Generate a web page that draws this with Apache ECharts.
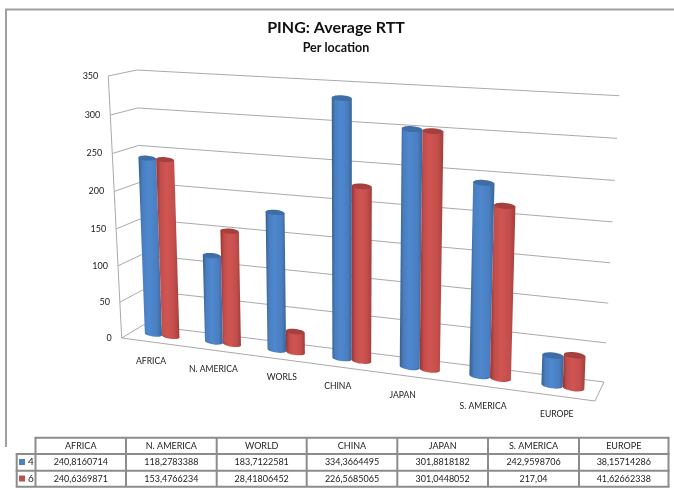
<!DOCTYPE html>
<html><head><meta charset="utf-8">
<style>html,body{margin:0;padding:0;background:#fff}#c{width:674px;height:490px}</style>
<script src="https://cdn.jsdelivr.net/npm/echarts@6/dist/echarts.min.js"></script>
</head><body><div id="c"></div>
<script>
const axisCategories = ['AFRICA','N. AMERICA','WORLS','CHINA','JAPAN','S. AMERICA','EUROPE'];
const tableCategories = ['AFRICA','N. AMERICA','WORLD','CHINA','JAPAN','S. AMERICA','EUROPE'];
const series4 = [240.8160714,118.2783388,183.7122581,334.3664495,301.8818182,242.9598706,38.15714286];
const series6 = [240.6369871,153.4766234,28.41806452,226.5685065,301.0448052,217.04,41.62662338];
const valueTicks = [0,50,100,150,200,250,300,350];
const FONT = 'Lato';
const GRID = {left:132, top:73, width:468, height:259};
const CORNERS = {
  f00:[121.7,338], f01:[108.3,76], f10:[595,401], f11:[613,97],
  b00:[143.3,325], b01:[136.7,70], b10:[604,382], b11:[619.3,95.7]
};
const mix=(a,b,t)=>[a[0]+(b[0]-a[0])*t,a[1]+(b[1]-a[1])*t];
function warp(s,w,z){
  const wp=w-0.05*w*(1-w), c=CORNERS;
  const front=mix(mix(c.f00,c.f01,wp),mix(c.f10,c.f11,wp),s);
  const back=mix(mix(c.b00,c.b01,wp),mix(c.b10,c.b11,wp),s);
  return mix(front,back,z);
}
const ease=u=>0.8764*u+0.1247*u*u;
function project(px,py,cs,z){
  const s=ease((px-cs.x)/cs.width), w=(cs.y+cs.height-py)/cs.height;
  const p=warp(s,w,z);
  return [p[0]-5*s*w,p[1]+4*s*w];
}
function cyl(dark,mid,light,edge,top){
  return {dark,mid,light,edge,top};
}
const BLUE=cyl('#3a659c','#4a7fc0','#4f88cf','#35608f','#3f6da6');
const RED=cyl('#a23c3a','#c24e4b','#d05552','#97312f','#a5403d');
function grad(p){return {type:'linear',x:0,y:0,x2:1,y2:0,colorStops:[
  {offset:0,color:p.edge},{offset:.18,color:p.mid},{offset:.45,color:p.light},{offset:.78,color:p.mid},{offset:1,color:p.dark}]};}
function cylinder(offset,pal){
  return function(params,api){
    const cs=params.coordSys, band=api.size([1,0])[0];
    const c0=api.coord([api.value(0),0]), c1=api.coord([api.value(0),api.value(1)]);
    const cx=c0[0]+offset*band, hw=0.145*band;
    const bl=project(cx-hw,c0[1],cs,.5), br=project(cx+hw,c0[1],cs,.5);
    const tl=project(cx-hw,c1[1],cs,.5), tr=project(cx+hw,c1[1],cs,.5);
    const fill=grad(pal);
    const ang=p=>-Math.atan2(p[1],p[0]);
    const rb=(br[0]-bl[0])/2, rt=(tr[0]-tl[0])/2;
    return {type:'group',children:[
      {type:'ellipse',x:(bl[0]+br[0])/2,y:(bl[1]+br[1])/2,rotation:ang([br[0]-bl[0],br[1]-bl[1]]),
       shape:{cx:0,cy:0,rx:rb,ry:rb*.28},style:{fill:fill}},
      {type:'polygon',shape:{points:[tl,tr,br,bl]},style:{fill:fill}},
      {type:'ellipse',x:(tl[0]+tr[0])/2,y:(tl[1]+tr[1])/2,rotation:ang([tr[0]-tl[0],tr[1]-tl[1]]),
       shape:{cx:0,cy:0,rx:rt,ry:rt*.28},style:{fill:pal.top}}
    ]};
  };
}
const LINE={stroke:'#aaaaaa',lineWidth:1,fill:null};
function wallItem(params,api){
  const cs=params.coordSys;
  const w=(cs.y+cs.height-api.coord([0,api.value(1)])[1])/cs.height;
  const pts=[warp(0,w,0),warp(0,w,1),warp(1,w,1)];
  const f=warp(0,w,0);
  return {type:'group',children:[
    {type:'polyline',shape:{points:pts},style:LINE},
    {type:'text',style:{x:f[0]-10,y:f[1],text:String(api.value(1)),align:'right',verticalAlign:'middle',
      font:'9px '+FONT,fill:'#222'}}
  ]};
}
function floorItem(){
  return {type:'group',children:[
    {type:'polyline',shape:{points:[warp(0,0,0),warp(1,0,0),warp(1,0,1)]},style:LINE},
    {type:'polyline',shape:{points:[warp(0,1,0),warp(0,0,0)]},style:LINE}
  ]};
}
const labelNudge=[[-11,1],[-9.5,1.5],[-4.3,.7],[-14,2],[-17,2],[-7,4],[-6,2]];
function catLabel(params,api){
  const cs=params.coordSys,i=api.value(0);
  const c=api.coord([i,0]), p=project(c[0],c[1],cs,.5);
  return {type:'text',style:{x:p[0]+labelNudge[i][0],y:p[1]+25+labelNudge[i][1],text:axisCategories[i],align:'center',verticalAlign:'middle',
    font:'8.6px '+FONT,fill:'#222'}};
}
// data table
const TX=[35.5,126,216.7,306.7,397.3,488,579,668.5], TY=[437.7,454,470.7,486.7], LEFT=16.7;
const fmt=v=>String(v).replace('.',',');
const tableEls=[];
const B={stroke:'#8c8c8c',lineWidth:2};
function hl(x1,x2,y){tableEls.push({type:'line',shape:{x1,y1:y,x2,y2:y},style:B});}
function vl(x,y1,y2){tableEls.push({type:'line',shape:{x1:x,y1,x2:x,y2},style:B});}
hl(TX[0]-1,TX[7]+1,TY[0]);hl(LEFT-1,TX[7]+1,TY[1]);hl(LEFT-1,TX[7]+1,TY[2]);hl(LEFT-1,TX[7]+1,TY[3]);
TX.forEach(x=>vl(x,TY[0],TY[3]));vl(LEFT,TY[1],TY[3]);
function cell(i,row,text){
  tableEls.push({type:'text',x:(TX[i]+TX[i+1])/2,y:(TY[row]+TY[row+1])/2,
    style:{text,align:'center',verticalAlign:'middle',font:'9px '+FONT,fill:'#222'}});
}
tableCategories.forEach((c,i)=>{cell(i,0,c);cell(i,1,fmt(series4[i]));cell(i,2,fmt(series6[i]));});
// chart frame
const frame=[
 {type:'line',shape:{x1:5,y1:9.5,x2:674,y2:9.5},style:{stroke:'#a0a0a0',lineWidth:2}},
 {type:'line',shape:{x1:6,y1:9,x2:6,y2:447},style:{stroke:'#a0a0a0',lineWidth:2}}
];
const chart=echarts.init(document.getElementById('c'));
const idx=axisCategories.map((c,i)=>i);
chart.setOption({
  animation:false,backgroundColor:'#fff',
  title:{text:'PING: Average RTT',subtext:'Per location',left:331,top:15,textAlign:'center',itemGap:5,
    textStyle:{fontFamily:FONT,fontSize:16,fontWeight:'bold',color:'#111'},
    subtextStyle:{fontFamily:FONT,fontSize:12.5,fontWeight:'bold',color:'#111'}},
  legend:{orient:'vertical',left:19,top:457,padding:0,itemWidth:6,itemHeight:6,itemGap:6.5,selectedMode:false,
    data:[{name:'4',icon:'rect'},{name:'6',icon:'rect'}],
    textStyle:{fontFamily:FONT,fontSize:10,color:'#222',padding:[0,0,0,-2]}},
  grid:GRID,
  xAxis:{type:'category',data:axisCategories,show:false},
  yAxis:{type:'value',min:0,max:350,interval:50,show:false},
  graphic:{elements:frame.concat(tableEls)},
  series:[
    {type:'custom',name:'walls',z:1,silent:true,data:valueTicks.map(v=>[0,v]),renderItem:wallItem,clip:false},
    {type:'custom',name:'floor',z:1,silent:true,data:[[0,0]],renderItem:floorItem,clip:false},
    {type:'custom',name:'labels',z:1,silent:true,data:idx.map(i=>[i,0]),renderItem:catLabel,clip:false},
    {type:'custom',name:'4',z:3,itemStyle:{color:'#4F81BD'},data:series4.map((v,i)=>[i,v]),renderItem:cylinder(-0.145,BLUE),clip:false},
    {type:'custom',name:'6',z:4,itemStyle:{color:'#C0504D'},data:series6.map((v,i)=>[i,v]),renderItem:cylinder(0.145,RED),clip:false}
  ]
});
</script></body></html>
